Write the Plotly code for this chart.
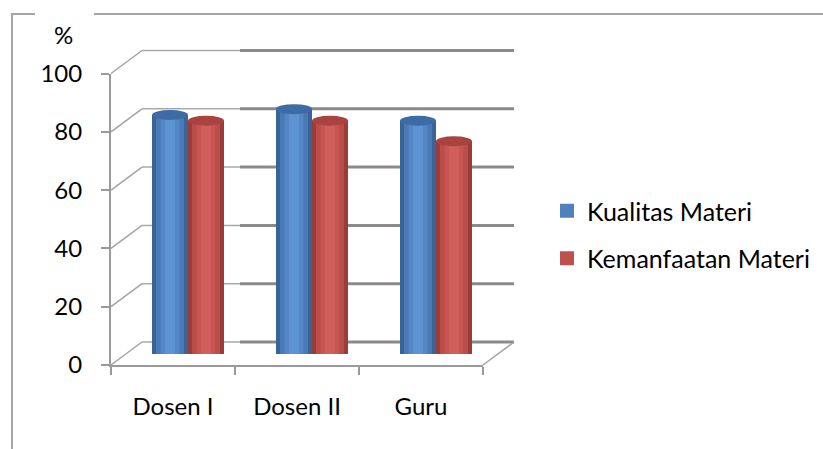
import plotly.graph_objects as go

# ---------------- data ----------------
categories = ["Dosen I", "Dosen II", "Guru"]
series_names = ["Kualitas Materi", "Kemanfaatan Materi"]
kualitas = [82, 84, 80]
kemanfaatan = [80, 80, 73]
y_ticks = [0, 20, 40, 60, 80, 100]
y_unit = "%"

# ---------------- geometry (pixels) ----------------
W, H = 823, 449
FONT = "Lato"
PX_PER_UNIT = 2.915
FRONT_Y0 = 365          # value 0 on the front plane
FRONT_X0, FRONT_X1 = 111, 483
BACK_DX, BACK_DY = 31, -23
BAR_DX, BAR_BASE = 15, 354

def yf(v):
    return FRONT_Y0 - v * PX_PER_UNIT

def yb(v):
    return yf(v) + BACK_DY

fx = lambda p: p / W
fy = lambda p: (H - p) / H

series_vals = [kualitas, kemanfaatan]
legend_col = ["#4F81BD", "#C0504D"]
grad = [
    ["#3A6497", "#4A7AB6", "#5587C6", "#5E93D2"],
    ["#9C3C39", "#BA4D4A", "#C8554F", "#D05E5A"],
]
top_col = ["#3D6BA5", "#A8433F"]
width_frac = [1.0, 0.78, 0.52, 0.28]

ncat = len(categories)
cat_px = (FRONT_X1 - FRONT_X0) / ncat
bar_w = 36 / cat_px
offsets = [-bar_w / 2, bar_w / 2]

fig = go.Figure()

# ---- frame / 3D wall lines on a pixel overlay subplot (xaxis, yaxis) ----
def seg_trace(xs, ys, color, width):
    fig.add_trace(go.Scatter(x=xs, y=ys, mode="lines", xaxis="x", yaxis="y",
                             line=dict(color=color, width=width),
                             hoverinfo="skip", showlegend=False))

bx0 = FRONT_X0 + BACK_DX
bx1 = FRONT_X1 + BACK_DX
split = 240
xs, ys = [], []
xs2, ys2 = [], []
for v in y_ticks:
    xs += [bx0, split, None]; ys += [yb(v), yb(v), None]
    xs2 += [split, bx1, None]; ys2 += [yb(v), yb(v), None]
seg_trace(xs, ys, "#A9A9A9", 1.5)
seg_trace(xs2, ys2, "#8A8A8A", 3)

# side-wall diagonals and floor edges
xs, ys = [], []
for v in y_ticks:
    xs += [FRONT_X0, bx0, None]; ys += [yf(v), yb(v), None]
xs += [FRONT_X1, bx1, None]; ys += [yf(0), yb(0), None]
seg_trace(xs, ys, "#A3A3A3", 1.5)

# outer chart frame (broken at the unit label)
seg_trace([35, 12, 12], [14, 14, 449], "#A6A6A6", 2)
seg_trace([94, 823], [14, 14], "#A6A6A6", 2)

# ---- bars (xaxis2, yaxis2) ----
for si, (name, vals) in enumerate(zip(series_names, series_vals)):
    for li, (wf, col) in enumerate(zip(width_frac, grad[si])):
        w = bar_w * wf
        fig.add_trace(go.Bar(
            x=categories, y=vals, xaxis="x2", yaxis="y2",
            width=[w] * ncat, offset=[offsets[si] - w / 2] * ncat,
            marker=dict(color=col, line=dict(width=0)),
            name=name, showlegend=False, legendgroup=name,
            hovertemplate="%{x}: %{y}<extra>" + name + "</extra>",
        ))
    # legend entry (square swatch)
    fig.add_trace(go.Scatter(
        x=[None], y=[None], xaxis="x2", yaxis="y2", mode="markers",
        marker=dict(symbol="square", size=14, color=legend_col[si]),
        name=name, legendgroup=name, showlegend=True,
    ))

shapes = []
for si, vals in enumerate(series_vals):
    for ci, v in enumerate(vals):
        xa = ci + offsets[si]
        shapes.append(dict(type="circle", xref="x2", yref="y2",
                           xsizemode="pixel", ysizemode="pixel",
                           xanchor=xa, yanchor=0, x0=-18, x1=18, y0=-4, y1=4,
                           fillcolor=grad[si][1], line=dict(width=0), layer="below"))
        shapes.append(dict(type="circle", xref="x2", yref="y2",
                           xsizemode="pixel", ysizemode="pixel",
                           xanchor=xa, yanchor=v, x0=-18, x1=18, y0=-5, y1=5,
                           fillcolor=top_col[si], line=dict(width=0)))

# ---- front axes (xaxis3, yaxis3) ----
fig.add_trace(go.Scatter(x=[0, 1, 2], y=[0, 0, 0], xaxis="x3", yaxis="y3",
                         mode="markers", marker=dict(opacity=0),
                         hoverinfo="skip", showlegend=False))

fig.update_layout(
    width=W, height=H, autosize=False,
    margin=dict(l=0, r=0, t=0, b=0, pad=0, autoexpand=False),
    paper_bgcolor="white", plot_bgcolor="rgba(0,0,0,0)",
    barmode="overlay",
    font=dict(family=FONT, size=24, color="black"),
    shapes=shapes,
    xaxis=dict(domain=[0, 1], range=[0, W], visible=False, fixedrange=True),
    yaxis=dict(domain=[0, 1], range=[H, 0], visible=False, fixedrange=True),
    xaxis2=dict(domain=[fx(FRONT_X0 + BAR_DX), fx(FRONT_X1 + BAR_DX)],
                range=[-0.5, ncat - 0.5], type="category", visible=False, anchor="y2"),
    yaxis2=dict(domain=[fy(BAR_BASE), fy(BAR_BASE - 100 * PX_PER_UNIT)],
                range=[0, 100], visible=False, anchor="x2"),
    xaxis3=dict(domain=[fx(FRONT_X0), fx(FRONT_X1)], range=[-0.5, ncat - 0.5],
                anchor="y3", tickvals=list(range(ncat)), ticktext=categories,
                ticks="", showline=True, linecolor="#9A9A9A", linewidth=2,
                showgrid=False, zeroline=False, ticklabelstandoff=19,
                automargin=False,
                minor=dict(tickvals=[i - 0.5 for i in range(ncat + 1)], ticks="outside",
                           ticklen=8, tickwidth=2, tickcolor="#9A9A9A", showgrid=False),
                tickfont=dict(family=FONT, size=24)),
    yaxis3=dict(domain=[fy(yf(0)), fy(yf(100))], range=[0, 100], anchor="x3",
                tickvals=y_ticks, ticks="outside", ticklen=8, tickwidth=2,
                tickcolor="#9A9A9A", showline=True, linecolor="#9A9A9A", linewidth=2,
                showgrid=False, zeroline=False, ticklabelstandoff=14,
                automargin=False,
                tickfont=dict(family=FONT, size=24)),
    legend=dict(x=fx(547), y=fy(188), xanchor="left", yanchor="top",
                font=dict(family=FONT, size=25), tracegroupgap=12,
                bgcolor="rgba(0,0,0,0)"),
    annotations=[dict(text=y_unit, x=fx(64), y=fy(35), xref="paper", yref="paper",
                      xanchor="center", yanchor="middle",
                      showarrow=False, font=dict(family=FONT, size=24))],
)

fig.write_html("out.html")
